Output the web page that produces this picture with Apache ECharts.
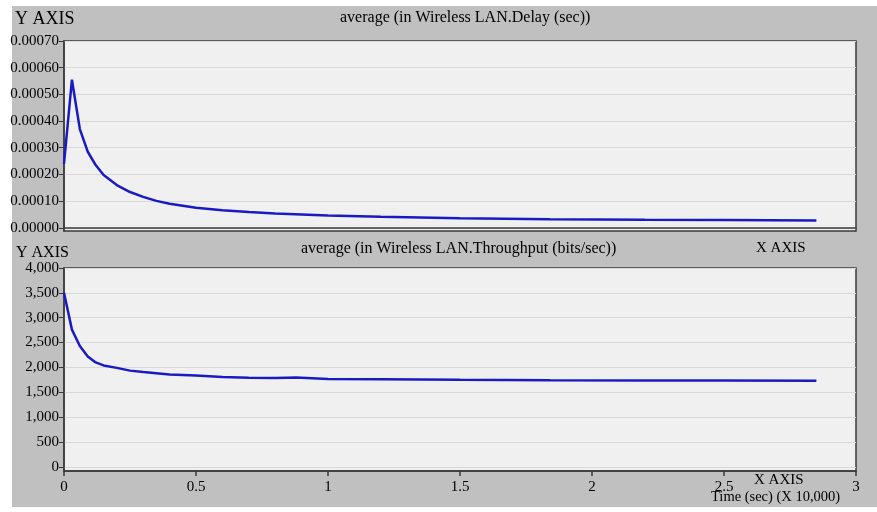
<!DOCTYPE html>
<html>
<head>
<meta charset="utf-8">
<script src="https://cdn.jsdelivr.net/npm/echarts@6/dist/echarts.min.js"></script>
<style>
html,body{margin:0;padding:0;background:#ffffff;}
#chart{width:877px;height:512px;}
</style>
</head>
<body>
<div id="chart"></div>
<script>
// Time (sec) in units of 10,000
const delayTime = [0, 0.03, 0.06, 0.09, 0.12, 0.15, 0.2, 0.25, 0.3, 0.35, 0.4, 0.5, 0.6, 0.7, 0.8, 1.0, 1.2, 1.5, 1.84, 2.2, 2.5, 2.85];
const delayValues = [0.00024, 0.000555, 0.00037, 0.000285, 0.000235, 0.000198, 0.000160, 0.000134, 0.000116, 0.000101, 0.000090, 0.000075, 0.000066, 0.000059, 0.000054, 0.000046, 0.000041, 0.000036, 0.000032, 0.000030, 0.000029, 0.000027];
const thrTime = [0, 0.03, 0.06, 0.09, 0.12, 0.15, 0.2, 0.25, 0.3, 0.4, 0.5, 0.6, 0.7, 0.8, 0.88, 1.0, 1.2, 1.5, 1.84, 2.2, 2.5, 2.85];
const thrValues = [3500, 2760, 2430, 2220, 2100, 2040, 1990, 1935, 1905, 1855, 1835, 1808, 1792, 1788, 1795, 1768, 1762, 1752, 1742, 1738, 1734, 1730];
const delayTicks = [0, 0.0001, 0.0002, 0.0003, 0.0004, 0.0005, 0.0006, 0.0007];
const thrTicks = [0, 500, 1000, 1500, 2000, 2500, 3000, 3500, 4000];
const xTicks = [0, 0.5, 1, 1.5, 2, 2.5, 3];

const FONT = '"Liberation Serif", "Times New Roman", serif';
const LINE = '#1a1ac4';
const AXIS = '#3a3a3a';
const GRIDC = '#d9d9d9';

const chart = echarts.init(document.getElementById('chart'), null, {renderer: 'canvas'});

function pairs(xs, ys){ return xs.map((x,i)=>[x, ys[i]]); }

const yCommon = {
  type: 'value',
  axisLine: {show: true, lineStyle: {color: AXIS, width: 1.5}},
  axisTick: {show: true, length: 5, lineStyle: {color: AXIS, width: 1}},
  splitLine: {show: true, lineStyle: {color: GRIDC, width: 1}},
  axisLabel: {fontFamily: FONT, fontSize: 15, color: '#000', margin: 5}
};

const option = {
  backgroundColor: '#ffffff',
  animation: false,
  graphic: [
    {type: 'rect', z: -10, shape: {x: 12, y: 6, width: 865, height: 501}, style: {fill: '#c0c0c0'}},
    {type: 'text', left: 15, top: 10, style: {text: 'Y AXIS', font: '18px ' + FONT, fill: '#000'}},
    {type: 'text', left: 16, top: 245, style: {text: 'Y AXIS', font: '16px ' + FONT, fill: '#000'}},
    {type: 'text', left: 340, top: 10, style: {text: 'average (in Wireless LAN.Delay (sec))', font: '16px ' + FONT, fill: '#000'}},
    {type: 'text', left: 301, top: 241, style: {text: 'average (in Wireless LAN.Throughput (bits/sec))', font: '16px ' + FONT, fill: '#000'}},
    {type: 'text', left: 756, top: 241, style: {text: 'X AXIS', font: '15px ' + FONT, fill: '#000'}},
    {type: 'text', left: 754, top: 473, style: {text: 'X AXIS', font: '15px ' + FONT, fill: '#000'}},
    {type: 'text', left: 711, top: 490, style: {text: 'Time (sec) (X 10,000)', font: '14.5px ' + FONT, fill: '#000'}}
  ],
  grid: [
    {left: 64, top: 41, width: 792, height: 190, show: true, backgroundColor: '#f0f0f0', borderColor: AXIS, borderWidth: 1.5, containLabel: false},
    {left: 64, top: 268, width: 792, height: 203, show: true, backgroundColor: '#f0f0f0', borderColor: AXIS, borderWidth: 1.5, containLabel: false}
  ],
  xAxis: [
    {gridIndex: 0, type: 'value', min: 0, max: 3, interval: 0.5,
     axisLine: {show: true, lineStyle: {color: AXIS, width: 1.5}},
     axisTick: {show: false}, axisLabel: {show: false}, splitLine: {show: false}},
    {gridIndex: 1, type: 'value', min: 0, max: 3, interval: 0.5,
     axisLine: {show: true, onZero: false, lineStyle: {color: AXIS, width: 1.5}},
     axisTick: {show: true, length: 5, lineStyle: {color: AXIS, width: 1.5}},
     axisLabel: {fontFamily: FONT, fontSize: 15, color: '#000', margin: 9,
       formatter: v => (xTicks.indexOf(v) >= 0 ? String(v) : '')},
     splitLine: {show: false}}
  ],
  yAxis: [
    Object.assign({}, yCommon, {gridIndex: 0, min: -0.000012, max: 0.0007,
      axisTick: Object.assign({}, yCommon.axisTick, {customValues: delayTicks}),
      axisLabel: Object.assign({}, yCommon.axisLabel, {customValues: delayTicks, formatter: v => v.toFixed(5)})}),
    Object.assign({}, yCommon, {gridIndex: 1, min: -85, max: 4000,
      axisTick: Object.assign({}, yCommon.axisTick, {customValues: thrTicks}),
      axisLabel: Object.assign({}, yCommon.axisLabel, {customValues: thrTicks, formatter: v => v.toLocaleString('en-US')})})
  ],
  series: [
    {type: 'line', xAxisIndex: 0, yAxisIndex: 0, data: pairs(delayTime, delayValues), showSymbol: false, smooth: false,
     lineStyle: {color: LINE, width: 2.5}, z: 5},
    {type: 'line', xAxisIndex: 1, yAxisIndex: 1, data: pairs(thrTime, thrValues), showSymbol: false, smooth: false,
     lineStyle: {color: LINE, width: 2.5}, z: 5}
  ]
};
chart.setOption(option);
</script>
</body>
</html>
